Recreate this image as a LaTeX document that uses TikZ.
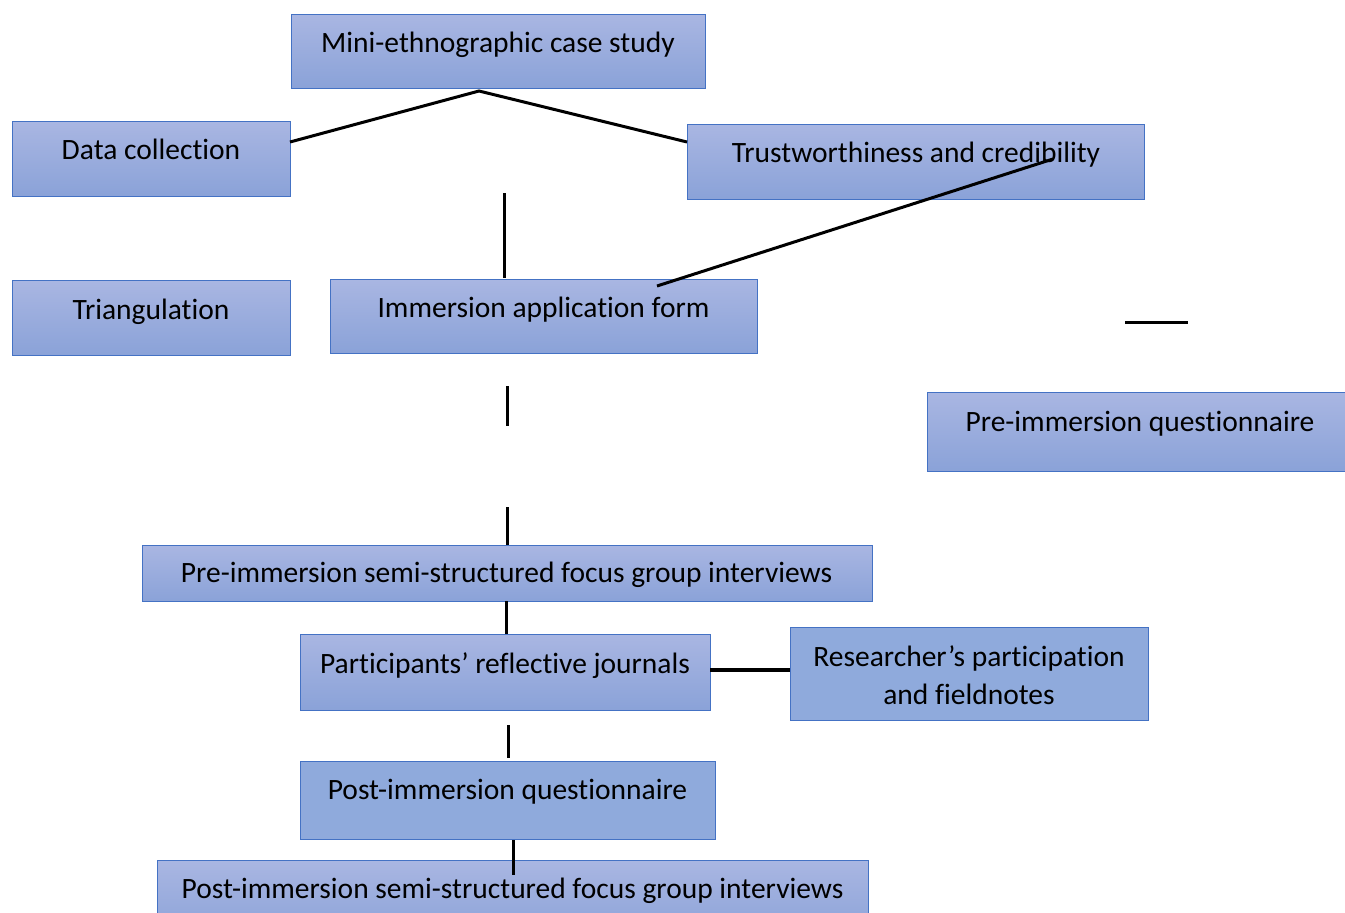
\documentclass[tikz,border=0pt]{standalone}
\usepackage{fontspec}
\setmainfont{Carlito}[Ligatures=NoCommon]
\usetikzlibrary{shadings}
\definecolor{bordc}{RGB}{68,114,196}
\definecolor{topc}{RGB}{169,182,226}
\definecolor{botc}{RGB}{138,162,216}
\definecolor{flatc}{RGB}{143,170,220}
\tikzset{
  gbox/.style={draw=bordc, line width=1.2pt, top color=topc, bottom color=botc, anchor=north west, inner sep=0pt},
  fbox/.style={draw=bordc, line width=1.2pt, fill=flatc, anchor=north west, inner sep=0pt},
  lbl/.style={anchor=base, inner sep=0pt, font=\fontsize{29.5}{38}\selectfont, align=center},
  conn/.style={line width=3pt, black}
}
\begin{document}
\begin{tikzpicture}[x=1pt,y=-1pt]
\useasboundingbox (0,0) rectangle (1345,913);
% boxes
\node[gbox, minimum width=414, minimum height=74] (mini) at (291,14) {};
\node[gbox, minimum width=278, minimum height=75] (dc) at (12,121) {};
\node[gbox, minimum width=457, minimum height=75] (tc) at (687,124) {};
\node[gbox, minimum width=278, minimum height=75] (tri) at (12,280) {};
\node[gbox, minimum width=427, minimum height=74] (iaf) at (330,279) {};
\node[gbox, minimum width=430, minimum height=79] (preq) at (927,392) {};
\node[gbox, minimum width=730, minimum height=56] (prefg) at (142,545) {};
\node[gbox, minimum width=410, minimum height=76] (pj) at (300,634) {};
\node[fbox, minimum width=358, minimum height=93] (rp) at (790,627) {};
\node[fbox, minimum width=415, minimum height=78] (postq) at (300,761) {};
\node[gbox, minimum width=711, minimum height=80] (postfg) at (157,860) {};
% texts
\node[lbl] (tmini) at (498,52) {Mini-ethnographic case study};
\node[lbl] (tdc) at (151,159) {Data collection};
\node[lbl] (ttc) at (916,162) {Trustworthiness and credibility};
\node[lbl] (ttri) at (151,319) {Triangulation};
\node[lbl] (tiaf) at (543.5,317) {Immersion application form};
\node[lbl] (tpreq) at (1140,431) {Pre-immersion questionnaire};
\node[lbl] (tprefg) at (506.5,582) {Pre-immersion semi-structured focus group interviews};
\node[lbl] (tpj) at (505,673) {Participants’ reflective journals};
\node[lbl, anchor=north] (trp) at (969,645) {Researcher’s participation\\and fieldnotes};
\node[lbl] (tpostq) at (507.5,799) {Post-immersion questionnaire};
\node[lbl] (tpostfg) at (512.5,898) {Post-immersion semi-structured focus group interviews};
% coordinates for free ends
\coordinate (apex) at (479,91);
\coordinate (dcR) at (290,142);
\coordinate (tcL) at (687,142);
\coordinate (v1a) at (504,193);
\coordinate (v1b) at (504,278);
\coordinate (iafT) at (657,286);
\coordinate (tcIn) at (1053,159);
\coordinate (h1a) at (1125,322);
\coordinate (h1b) at (1188,322);
\coordinate (v2a) at (507,386);
\coordinate (v2b) at (507,426);
\coordinate (v3a) at (507,507);
\coordinate (v3b) at (507,545);
\coordinate (v4a) at (506,601);
\coordinate (v4b) at (506,634);
\coordinate (pjR) at (710,670);
\coordinate (rpL) at (790,670);
\coordinate (v5a) at (508,725);
\coordinate (v5b) at (508,758);
\coordinate (v6a) at (513,840);
\coordinate (v6b) at (513,875);
% connectors
\draw[conn] (dcR) -- (apex) -- (tcL);
\draw[conn] (v1a) -- (v1b);
\draw[conn] (iafT) -- (tcIn);
\draw[conn] (h1a) -- (h1b);
\draw[conn] (v2a) -- (v2b);
\draw[conn] (v3a) -- (v3b);
\draw[conn] (v4a) -- (v4b);
\draw[conn, line width=3.5pt] (pjR) -- (rpL);
\draw[conn] (v5a) -- (v5b);
\draw[conn] (v6a) -- (v6b);
\end{tikzpicture}
\end{document}
